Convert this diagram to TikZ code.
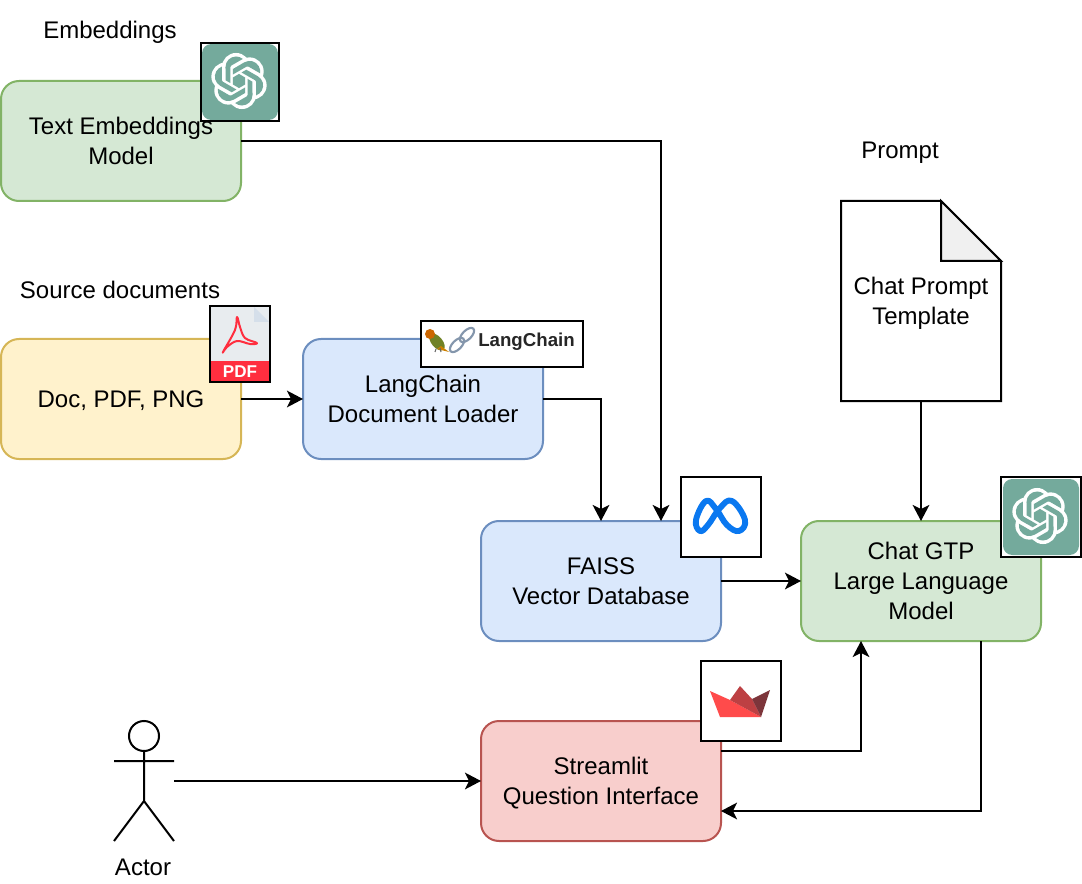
\documentclass[tikz,border=0pt]{standalone}
\usepackage{fontspec}
\setmainfont{Liberation Sans}
\usepackage{tikz}
\usetikzlibrary{arrows.meta,calc}
\definecolor{gptgreen}{HTML}{74AA9C}
\definecolor{metablue}{HTML}{0A78F0}
\definecolor{slred}{HTML}{FF4B4B}
\definecolor{slmid}{HTML}{BD4043}
\definecolor{sldark}{HTML}{7D353B}
\definecolor{pdfred}{HTML}{FF2E3F}
\definecolor{pdfpage}{HTML}{E8ECEF}
\definecolor{pdffold}{HTML}{D5DFEA}
\definecolor{chainblue}{HTML}{8496AC}
\newcommand{\ls}{\rule[-4.85pt]{0pt}{22.5pt}}
\tikzstyle{block} = [rectangle, draw, line width=1.5pt, rounded corners=13.5pt, minimum width=180pt, minimum height=90pt, inner sep=0pt, outer sep=0pt, align=center]
\tikzstyle{greenblock} = [block, draw={rgb,255:red,130;green,179;blue,102}, fill={rgb,255:red,213;green,232;blue,212}]
\tikzstyle{yellowblock} = [block, draw={rgb,255:red,214;green,182;blue,86}, fill={rgb,255:red,255;green,242;blue,204}]
\tikzstyle{blueblock} = [block, draw={rgb,255:red,108;green,142;blue,191}, fill={rgb,255:red,218;green,232;blue,252}]
\tikzstyle{redblock} = [block, draw={rgb,255:red,184;green,84;blue,80}, fill={rgb,255:red,248;green,206;blue,204}]
\tikzstyle{iconbox} = [rectangle, draw, line width=1.5pt, fill=white, inner sep=0pt, outer sep=0pt, minimum width=60pt, minimum height=60pt]
\tikzstyle{caption} = [inner sep=0pt, outer sep=0pt, align=center]
\tikzstyle{line} = [draw, line width=1.5pt, -{Stealth[length=12pt,width=12.5pt,inset=3pt]}]
\newcommand{\gptlogo}[1]{
	\begin{scope}[shift={(#1)}]
		\fill [gptgreen, rounded corners=7pt] (-38,-38) rectangle (38,38);
		\begin{scope}[shift={(-1,-1)}, scale=2.35]
			\fill [white] (0,0) circle [radius=6];
			\foreach \a in {18,78,...,318}
				\fill [white] (\a:6.06) circle [radius=6];
			\foreach \a in {0,60,...,300}
				\fill [rotate=\a, gptgreen] (-1.62,9.39) -- (3.30,6.55) -- (3.69,5.87) -- (3.69,-0.87) -- (5.71,0.30) -- (5.75,5.93) .. controls (5.75,8.41) and (3.74,10.43) .. (1.26,10.43) .. controls (0.21,10.43) and (-0.81,10.06) .. (-1.62,9.39) -- cycle;
			\fill [gptgreen] (0,-3) -- (2.6,-1.5) -- (2.6,1.5) -- (0,3) -- (-2.6,1.5) -- (-2.6,-1.5) -- cycle;
		\end{scope}
	\end{scope}
}
\begin{document}
\begin{tikzpicture}[x=0.75pt, y=-0.75pt, font=\fontsize{18}{22.5}\selectfont]
	\useasboundingbox (0,0) rectangle (1082,884);
	% boxes
	\node [greenblock] (textmodel) at (121,141) {\ls Text Embeddings\\Model\ls};
	\node [yellowblock, below of=textmodel, node distance=193.5pt] (sourcedocs) {\ls Doc, PDF, PNG};
	\node [blueblock, right of=sourcedocs, node distance=226.5pt] (docloader) {\ls LangChain\\Document Loader\ls};
	\node [blueblock] (faiss) at (601,581) {\ls FAISS\\Vector Database\ls};
	\node [greenblock, right of=faiss, node distance=240pt] (chatmodel) {\ls Chat GTP\\Large Language\\Model\ls};
	\node [redblock, below of=faiss, node distance=150pt] (streamlit) {\ls Streamlit\\Question Interface\ls};
	\node [inner sep=0pt, outer sep=0pt, minimum width=120pt, minimum height=150pt, align=center, above of=chatmodel, node distance=210pt] (promptdoc) {\ls Chat Prompt\\Template\ls};
	\node [inner sep=0pt, outer sep=0pt, minimum width=45pt, minimum height=90pt] (actor) at (144,781) {};
	% captions
	\node [caption] (embedcap) at (110,30) {\ls Embeddings};
	\node [caption] (sourcecap) at (120,290) {\ls Source documents};
	\node [caption] (promptcap) at (900,150) {\ls Prompt};
	\node [caption] (actorcap) at (143,867) {\ls Actor};
	% prompt page
	\draw [line width=1.5pt, line join=miter] (promptdoc.north west) -- (941,201) -- (1001,261) -- (promptdoc.south east) -- (promptdoc.south west) -- cycle;
	\draw [line width=1.5pt, line join=miter, fill=black!6] (941,201) -- (941,261) -- (1001,261) -- cycle;
	% stick figure
	\draw [line width=1.5pt] (144,736) circle [radius=15];
	\draw [line width=1.5pt] (144,751) -- (144,801) (114,761) -- (174,761) (114,841) -- (144,801) -- (174,841);
	% connectors
	\path [line] (textmodel.east) -| ([xshift=45pt]faiss.north);
	\path [line] (sourcedocs) -- (docloader);
	\path [line] (docloader.east) -| (faiss.north);
	\path [line] (promptdoc) -- (chatmodel);
	\path [line] (faiss) -- (chatmodel);
	\path [line] (actor.east) -- (streamlit.west);
	\path [line] ([yshift=22.5pt]streamlit.east) -| ([xshift=-45pt]chatmodel.south);
	\path [line] ([xshift=45pt]chatmodel.south) |- ([yshift=-22.5pt]streamlit.east);
	% logos
	\node [iconbox, minimum width=58.5pt, minimum height=58.5pt] (gptembed) at (240,82) {};
	\begin{scope}
		\clip (gptembed.north west) rectangle (gptembed.south east);
		\gptlogo{gptembed.center}
	\end{scope}
	\draw [line width=1.5pt] (gptembed.north west) rectangle (gptembed.south east);
	\node [iconbox] (gptchat) at (1041,517) {};
	\begin{scope}
		\clip (gptchat.north west) rectangle (gptchat.south east);
		\gptlogo{gptchat.center}
	\end{scope}
	\draw [line width=1.5pt] (gptchat.north west) rectangle (gptchat.south east);
	\node [iconbox] (metalogo) at (721,517) {};
	\draw [metablue, line width=4.4pt, line join=round] plot [smooth cycle, tension=0.7] coordinates {(706,501) (696,520) (700,531) (708,525) (720,508) (732,501) (745,520) (739,531) (727,525) (716,509)};
	\node [iconbox] (slogo) at (741,701) {};
	\fill [slred] (710,691) -- (720,717) -- (761,717) -- (730,700) -- cycle;
	\fill [slmid] (730,700) -- (740,686) -- (752,699) -- (761,717) -- cycle;
	\fill [sldark] (752,699) -- (770,690) -- (761,717) -- cycle;
	\node [iconbox, minimum width=45pt, minimum height=57pt, fill=pdfpage] (pdflogo) at (240,344) {};
	\fill [pdffold] (254,307) -- (269,322) -- (254,322) -- cycle;
	\node [anchor=south, fill=pdfred, minimum width=45pt, minimum height=15.5pt, inner sep=0pt, outer sep=0pt, text=white, font=\fontsize{12.8}{14}\selectfont\bfseries] (pdfband) at (pdflogo.south) {PDF};
	\draw [pdfred, line width=1.5pt, line join=round] plot [smooth cycle, tension=0.6] coordinates {(223,352) (235,330) (237,317) (240,327) (245,338) (257,343) (250,344) (237,341) (227,347)};
	\draw [line width=1.5pt] (pdflogo.north west) rectangle (pdflogo.south east);
	\node [iconbox, minimum width=121.5pt, minimum height=34.5pt] (lclogo) at (502,344) {};
	\node [anchor=east, inner sep=0pt, text=black!85, font=\fontsize{14}{16}\selectfont\bfseries] (lctext) at (575,342) {LangChain};
	% parrot and chain
	\fill [olive!70!green!80!black, rotate around={-50:(437,342)}] (437,342) ellipse [x radius=10, y radius=5.5];
	\fill [orange!80!black] (430,334) circle [radius=5];
	\fill [orange!60!olive] (441,346) -- (449,352) -- (437,349) -- cycle;
	\draw [black!60, line width=0.8pt] (436,349) -- (435,352) (440,348) -- (441,352);
	\draw [chainblue, line width=1.6pt, rotate around={45:(457,345)}] (457,345) ellipse [x radius=9, y radius=4.5];
	\draw [chainblue, line width=1.6pt, rotate around={45:(467,335)}] (467,335) ellipse [x radius=9, y radius=4.5];
\end{tikzpicture}
\end{document}
